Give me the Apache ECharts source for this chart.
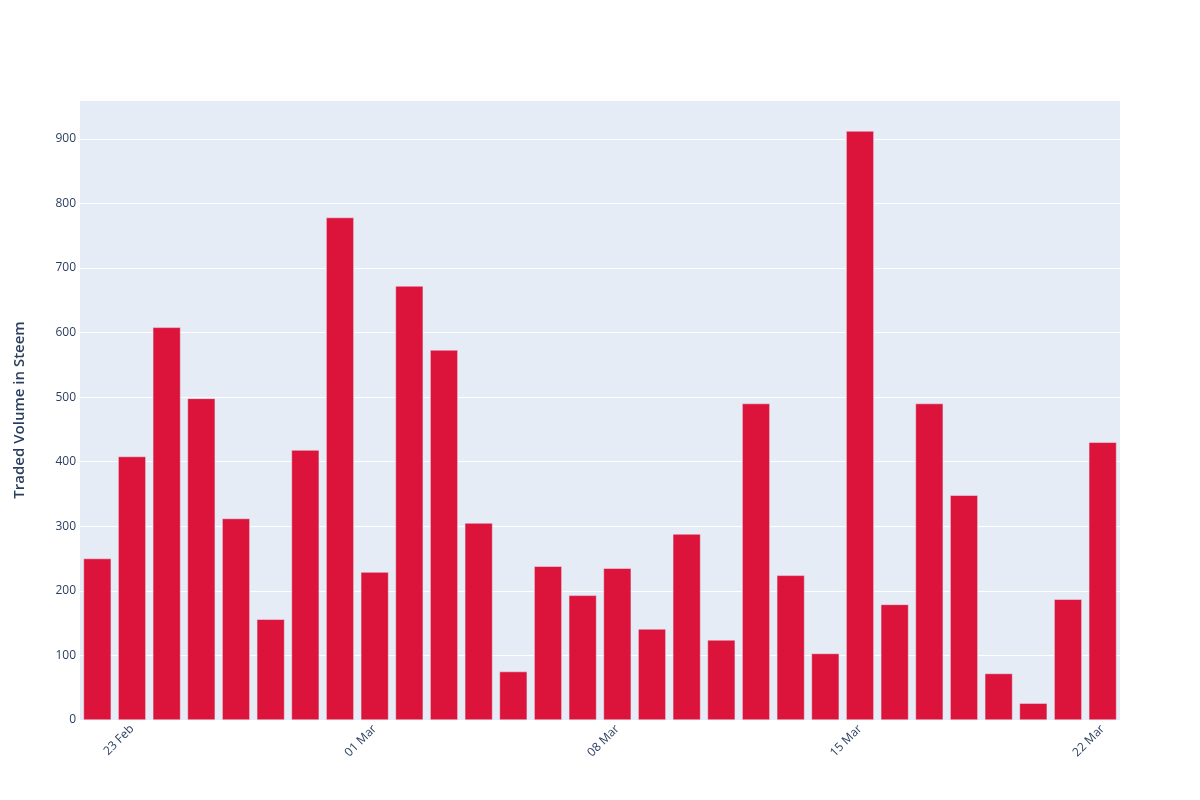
<!DOCTYPE html>
<html>
<head>
<meta charset="utf-8">
<script src="https://cdn.jsdelivr.net/npm/echarts@6/dist/echarts.min.js"></script>
<style>html,body{margin:0;padding:0;background:#fff}#c{width:1200px;height:800px}</style>
</head>
<body>
<div id="c"></div>
<script>
const dates = ["22 Feb","23 Feb","24 Feb","25 Feb","26 Feb","27 Feb","28 Feb","29 Feb","01 Mar","02 Mar",
  "03 Mar","04 Mar","05 Mar","06 Mar","07 Mar","08 Mar","09 Mar","10 Mar","11 Mar","12 Mar",
  "13 Mar","14 Mar","15 Mar","16 Mar","17 Mar","18 Mar","19 Mar","20 Mar","21 Mar","22 Mar"];
const volume = [250,408,608,498,312,156,418,778,229,672,
  573,305,75,238,193,235,141,288,124,490,
  224,103,912,179,490,348,72,26,187,430];
const xTickLabels = ["23 Feb","01 Mar","08 Mar","15 Mar","22 Mar"];
const yTicks = [0,100,200,300,400,500,600,700,800,900];

const chart = echarts.init(document.getElementById('c'), null, {renderer:'canvas'});
chart.setOption({
  animation:false,
  backgroundColor:'#ffffff',
  textStyle:{fontFamily:'"Open Sans", verdana, arial, sans-serif'},
  grid:{left:80,right:80,top:100,bottom:80,show:true,backgroundColor:'#E5ECF6',borderWidth:0},
  xAxis:{
    type:'category',
    data:dates,
    axisLine:{show:false},
    axisTick:{show:false},
    splitLine:{show:false},
    axisLabel:{
      rotate:45,
      color:'#2a3f5f',
      fontSize:12,
      margin:7,
      interval:(i,v)=>xTickLabels.includes(v)
    }
  },
  yAxis:{
    type:'value',
    min:0,max:960,interval:100,
    name:'Traded Volume in Steem',
    nameLocation:'middle',
    nameGap:53,
    nameTextStyle:{color:'#2a3f5f',fontSize:15,fontWeight:600},
    axisLine:{show:false},
    axisTick:{show:false},
    splitLine:{lineStyle:{color:'#ffffff',width:1}},
    axisLabel:{
      color:'#2a3f5f',fontSize:12,margin:4,
      showMaxLabel:false,
      formatter:v=>yTicks.includes(v)?String(v):''
    }
  },
  series:[{
    type:'bar',
    data:volume,
    barCategoryGap:'20%',
    itemStyle:{color:'#DC143C',borderColor:'#E5ECF6',borderWidth:0.5}
  }]
});
</script>
</body>
</html>
